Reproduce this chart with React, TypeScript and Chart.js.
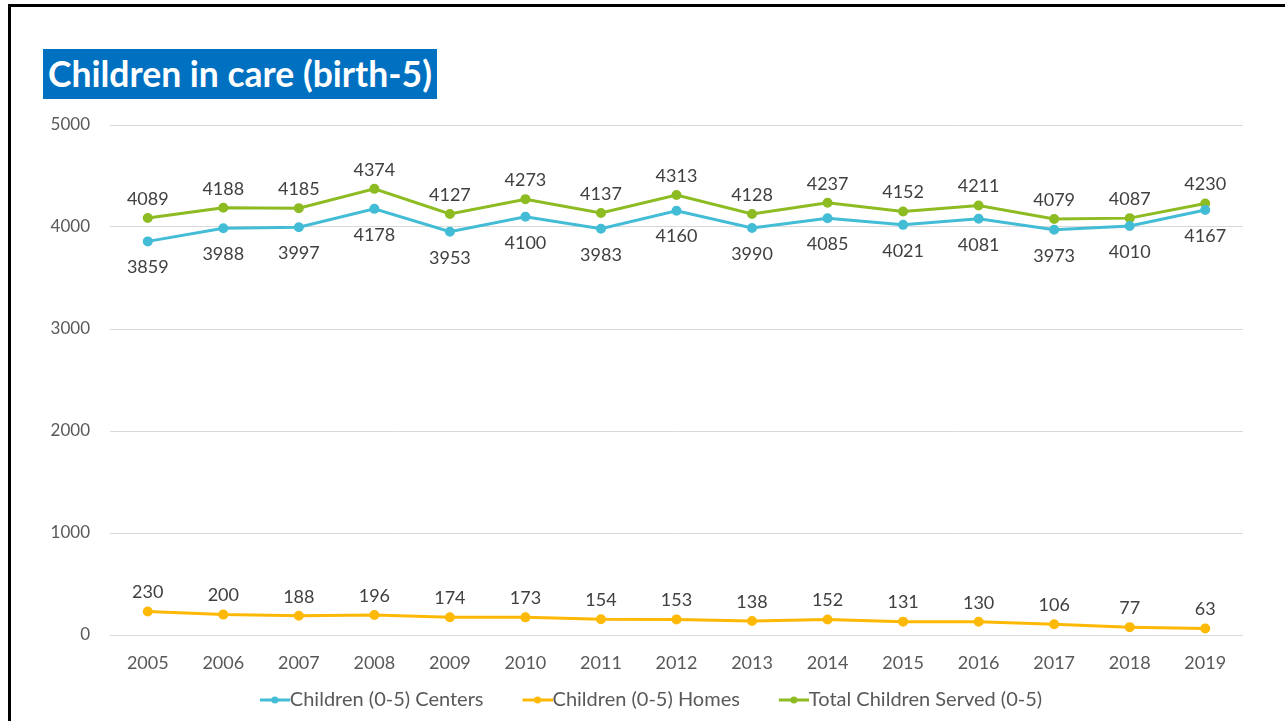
import React, { useEffect, useRef } from "react";
import { Chart, registerables } from "chart.js";

Chart.register(...registerables);

const years = ["2005","2006","2007","2008","2009","2010","2011","2012","2013","2014","2015","2016","2017","2018","2019"];
const centers = [3859, 3988, 3997, 4178, 3953, 4100, 3983, 4160, 3990, 4085, 4021, 4081, 3973, 4010, 4167];
const homes = [230, 200, 188, 196, 174, 173, 154, 153, 138, 152, 131, 130, 106, 77, 63];
const total = [4089, 4188, 4185, 4374, 4127, 4273, 4137, 4313, 4128, 4237, 4152, 4211, 4079, 4087, 4230];
const yTicks = [0, 1000, 2000, 3000, 4000, 5000];

const BLUE = "#43BCD6";
const ORANGE = "#FDB905";
const GREEN = "#8DBB22";
const FONT = "Lato, 'Open Sans', sans-serif";

// legend marker: transparent lead-in, then a 30px line with a dot
function makeMarker(color: string) {
  const c = document.createElement("canvas");
  c.width = 69;
  c.height = 10;
  const ctx = c.getContext("2d")!;
  ctx.strokeStyle = color;
  ctx.lineWidth = 3;
  ctx.beginPath();
  ctx.moveTo(39, 5);
  ctx.lineTo(69, 5);
  ctx.stroke();
  ctx.fillStyle = color;
  ctx.beginPath();
  ctx.arc(54, 5, 3.5, 0, Math.PI * 2);
  ctx.fill();
  return c;
}

const labelPlugin = {
  id: "valueLabels",
  afterDatasetsDraw(chart: any) {
    const ctx = chart.ctx;
    ctx.save();
    ctx.font = `18px ${FONT}`;
    ctx.fillStyle = "#404040";
    ctx.textAlign = "center";
    ctx.textBaseline = "middle";
    chart.data.datasets.forEach((ds: any, i: number) => {
      const meta = chart.getDatasetMeta(i);
      const off = ds.labelOffset as number;
      meta.data.forEach((pt: any, j: number) => {
        ctx.fillText(String(ds.data[j]), pt.x, pt.y + off);
      });
    });
    ctx.restore();
  },
};

export default function App() {
  const ref = useRef<HTMLCanvasElement>(null);
  useEffect(() => {
    const markers = [makeMarker(BLUE), makeMarker(ORANGE), makeMarker(GREEN)];
    const chart = new Chart(ref.current!, {
      type: "line",
      data: {
        labels: years,
        datasets: [
          { label: "Children (0-5) Centers", data: centers, borderColor: BLUE, backgroundColor: BLUE, borderWidth: 3, pointRadius: 3.5, labelOffset: 26 } as any,
          { label: "Children (0-5) Homes", data: homes, borderColor: ORANGE, backgroundColor: ORANGE, borderWidth: 3, pointRadius: 3.5, labelOffset: -19 } as any,
          { label: "Total Children Served (0-5)", data: total, borderColor: GREEN, backgroundColor: GREEN, borderWidth: 3, pointRadius: 3.5, labelOffset: -19 } as any,
        ],
      },
      options: {
        animation: false,
        responsive: false,
        maintainAspectRatio: false,
        elements: { point: { pointStyle: "circle" }, line: { tension: 0 } },
        layout: { padding: { top: 125, right: 12, bottom: 1, left: 0 } },
        plugins: {
          tooltip: { enabled: false },
          legend: {
            position: "bottom",
            labels: {
              color: "#595959",
              font: { family: FONT, size: 20 },
              usePointStyle: true,
              pointStyleWidth: 49,
              padding: 10,
              generateLabels: (ch: any) =>
                ch.data.datasets.map((ds: any, i: number) => ({
                  text: ds.label,
                  fillStyle: ds.borderColor,
                  strokeStyle: ds.borderColor,
                  pointStyle: markers[i],
                  fontColor: "#595959",
                  datasetIndex: i,
                  hidden: false,
                  lineWidth: 0,
                })),
            },
          },
        },
        scales: {
          x: {
            offset: true,
            grid: { display: false },
            border: { display: false },
            ticks: { color: "#595959", font: { family: FONT, size: 18 }, padding: 9 },
            afterFit: (s: any) => { s.height = 45; },
          },
          y: {
            min: 0,
            max: 5000,
            afterBuildTicks: (s: any) => { s.ticks = yTicks.map((v) => ({ value: v })); },
            grid: { color: "#D9D9D9", lineWidth: 1, drawTicks: false },
            border: { display: false },
            ticks: { color: "#595959", font: { family: FONT, size: 17 }, padding: 20, callback: (v: any) => String(v) },
            afterFit: (s: any) => { s.width = 110; },
          },
          spacer: {
            type: "linear",
            position: "right",
            grid: { display: false },
            border: { display: false },
            ticks: { display: false },
            afterFit: (s: any) => { s.width = 30; },
          },
        },
      },
      plugins: [labelPlugin],
    });
    return () => chart.destroy();
  }, []);

  return (
    <div style={{ position: "fixed", left: 0, top: 0, width: 1285, height: 721, overflow: "hidden", background: "#fff" }}>
      <div style={{ position: "absolute", left: 8, top: 4, width: 1400, height: 800, borderLeft: "3px solid #000", borderTop: "3px solid #000", boxSizing: "border-box" }} />
      <canvas ref={ref} width={1285} height={721} style={{ position: "absolute", left: 0, top: 0 }} />
      <div style={{ position: "absolute", left: 43, top: 49, height: 50, padding: "0 5px 0 5px", background: "#0070C0", color: "#fff", fontFamily: FONT, fontWeight: 700, fontSize: 35.5, lineHeight: "50px", whiteSpace: "nowrap" }}>
        Children in care (birth-5)
      </div>
    </div>
  );
}
